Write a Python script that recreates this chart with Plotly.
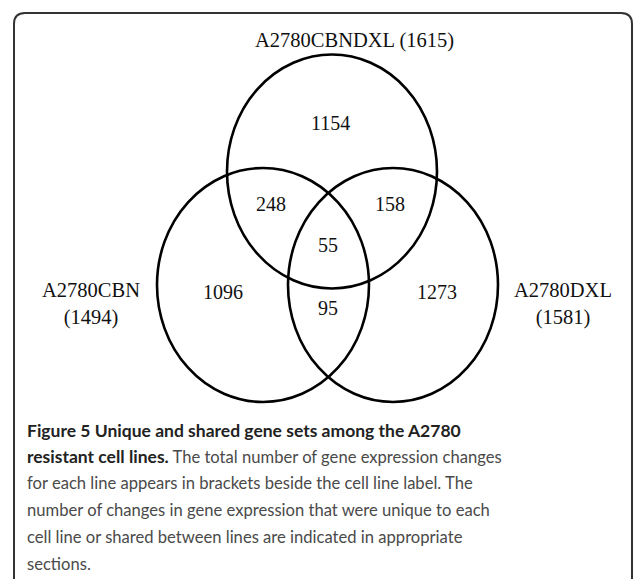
import plotly.graph_objects as go

# ---- data ----
set_names = ["A2780CBNDXL", "A2780CBN", "A2780DXL"]
set_totals = [1615, 1494, 1581]
region_names = ["CBNDXL only", "CBN & CBNDXL", "DXL & CBNDXL", "all three", "CBN only", "DXL only", "CBN & DXL"]
region_counts = [1154, 248, 158, 55, 1096, 1273, 95]

caption_bold = ["Figure 5 Unique and shared gene sets among the A2780", "resistant cell lines.", "", "", "", ""]
caption_plain = [
    "",
    " The total number of gene expression changes",
    "for each line appears in brackets beside the cell line label. The",
    "number of changes in gene expression that were unique to each",
    "cell line or shared between lines are indicated in appropriate",
    "sections.",
]

# ---- layout geometry (pixel space) ----
W, H = 633, 579
circles = [  # cx, cy, rx, ry
    (332, 171.5, 105, 117),
    (263, 285, 106, 117),
    (393, 285, 105, 117),
]
region_pos = [(330, 123), (271, 204), (390, 204), (328, 245), (223, 292), (437, 292), (328, 308)]
label_pos = [(354, 40), (91, 304), (563, 304)]

fig = go.Figure()
fig.add_trace(go.Scatter(x=[0], y=[0], mode="markers", marker=dict(opacity=0), hoverinfo="skip", showlegend=False))

serif = "Liberation Serif"

for (cx, cy, rx, ry) in circles:
    fig.add_shape(type="circle", xref="x", yref="y", x0=cx - rx, x1=cx + rx, y0=cy - ry, y1=cy + ry,
                  line=dict(color="#000000", width=2.6))

for (x, y), n in zip(region_pos, region_counts):
    fig.add_annotation(x=x, y=y, text=str(n), showarrow=False, xref="x", yref="y",
                       font=dict(family=serif, size=20, color="#111111"), xanchor="center", yanchor="middle")

# set labels
fig.add_annotation(x=label_pos[0][0], y=label_pos[0][1], text=f"{set_names[0]} ({set_totals[0]})",
                   showarrow=False, font=dict(family=serif, size=20.5, color="#111111"),
                   xanchor="center", yanchor="middle")
for i in (1, 2):
    fig.add_annotation(x=label_pos[i][0], y=label_pos[i][1], text=f"{set_names[i]}<br>({set_totals[i]})",
                       showarrow=False, font=dict(family=serif, size=20.5, color="#111111"),
                       xanchor="center", yanchor="middle", align="center")

# caption
cap_y0, cap_dy = 430, 26.7
for i, (b, p) in enumerate(zip(caption_bold, caption_plain)):
    txt = ""
    if b:
        txt += f"<b><span style='font-size:17.5px;fill:#222222'>{b}</span></b>"
    if p:
        txt += p
    fig.add_annotation(x=25, y=cap_y0 + i * cap_dy, text=txt, showarrow=False,
                       font=dict(family="Lato", size=16.6, color="#4a4a4a"),
                       xanchor="left", yanchor="middle", align="left")

# rounded border
fig.add_shape(type="path", xref="x", yref="y",
              path="M 14,579 L 14,24 Q 14,13 25,13 L 621,13 Q 632,13 632,24 L 632,579",
              line=dict(color="#333333", width=2))

fig.update_layout(
    width=W, height=H, autosize=False,
    margin=dict(l=0, r=0, t=0, b=0),
    paper_bgcolor="white", plot_bgcolor="white",
    xaxis=dict(range=[0, W], visible=False, fixedrange=True),
    yaxis=dict(range=[H, 0], visible=False, fixedrange=True),
    showlegend=False,
)

fig.write_html("out.html", config={"displayModeBar": False},
               post_script="document.body.style.margin='0px';")
